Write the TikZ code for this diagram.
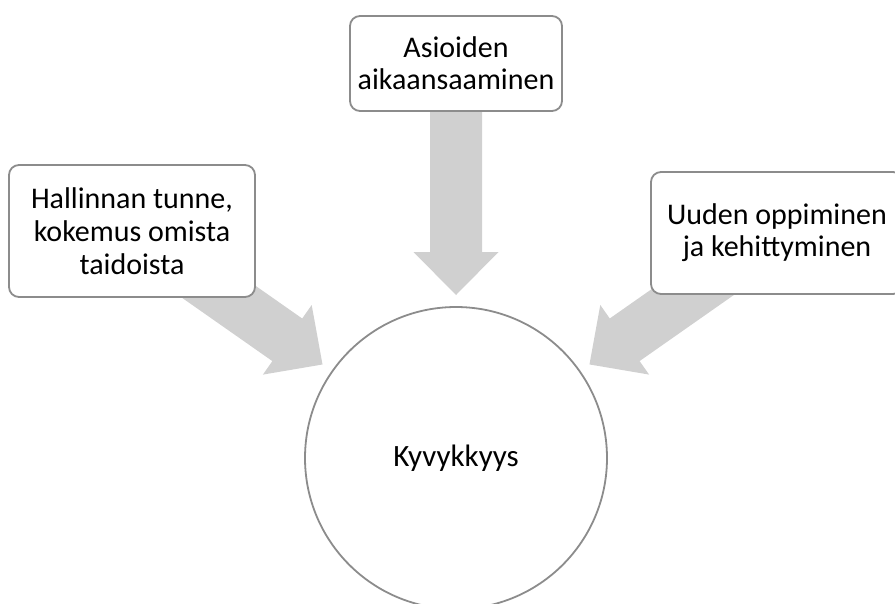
\documentclass[tikz,border=0pt]{standalone}
\usepackage{fontspec}
\setmainfont{Carlito}
\usetikzlibrary{calc,backgrounds}
\definecolor{edgegray}{HTML}{8C8C8C}
\definecolor{arrowgray}{HTML}{D0D0D0}
\tikzset{
  labelbox/.style={draw=edgegray, line width=1.8pt, fill=white, rounded corners=10pt,
    align=center, inner sep=0pt, font=\fontsize{30}{32}\selectfont},
  hubcircle/.style={draw=edgegray, line width=1.8pt, fill=white, circle, inner sep=0pt,
    minimum size=302pt, font=\fontsize{31}{33}\selectfont},
  arrowfill/.style={fill=arrowgray, draw=none}
}
\newcommand{\blockarrow}[2]{%
  \coordinate (ba-b) at ($(#2)!43pt!(#1)$);
  \fill[arrowfill] ($(#1)!26pt!90:(#2)$) -- ($(ba-b)!26pt!90:(#2)$)
    -- ($(ba-b)!42.5pt!90:(#2)$) -- (#2) -- ($(ba-b)!42.5pt!-90:(#2)$)
    -- ($(ba-b)!26pt!-90:(#2)$) -- ($(#1)!26pt!-90:(#2)$) -- cycle;
}
\begin{document}
\begin{tikzpicture}[x=1pt, y=-1pt]
\useasboundingbox (0,0) rectangle (895,603);
\clip (0,0) rectangle (895,603);
\node[hubcircle] (hub) at (456,458) {Kyvykkyys};
\node[labelbox, minimum width=212pt, minimum height=95pt] (top) at (456,63.5) {Asioiden\\aikaansaaminen};
\node[labelbox, minimum width=246pt, minimum height=132pt, font=\fontsize{30}{33}\selectfont] (left) at (132,231) {Hallinnan tunne,\\kokemus omista\\taidoista};
\node[labelbox, minimum width=252pt, minimum height=122pt] (right) at (777,233) {Uuden oppiminen\\ja kehittyminen};
\coordinate (tipT) at ($(hub.center)!163pt!(top.center)$);
\coordinate (tipL) at ($(hub.center)!163pt!(left.center)$);
\coordinate (tipR) at ($(hub.center)!163pt!(right.center)$);
\begin{pgfonlayer}{background}
\blockarrow{top.center}{tipT}
\blockarrow{left.center}{tipL}
\blockarrow{right.center}{tipR}
\end{pgfonlayer}
\end{tikzpicture}
\end{document}
